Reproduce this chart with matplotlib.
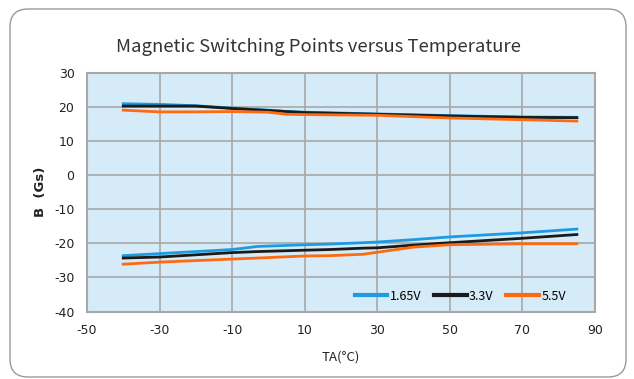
import matplotlib
matplotlib.use("Agg")
import matplotlib.pyplot as plt
from matplotlib.patches import FancyBboxPatch
from matplotlib.transforms import IdentityTransform

plt.rcParams["axes.unicode_minus"] = False

# ── Data ─────────────────────────────────────────────────────────────────────
temp_hi = [-40, -30, -20, -10, 0, 5, 10, 30, 50, 70, 85]
b165_hi = [21.0, 20.8, 20.4, 19.7, 19.1, 18.7, 18.5, 18.0, 17.5, 17.1, 17.0]
b33_hi  = [20.3, 20.3, 20.3, 19.6, 19.0, 18.7, 18.4, 17.9, 17.4, 17.0, 16.9]
b55_hi  = [19.1, 18.6, 18.6, 18.7, 18.5, 17.9, 17.8, 17.6, 16.8, 16.3, 15.9]

temp_lo = [-40, -30, -10, -3, 10, 17, 26, 30, 40, 50, 70, 85]
b165_lo = [-23.6, -23.0, -21.8, -20.9, -20.4, -20.2, -19.8, -19.6, -18.9, -18.1, -16.9, -15.8]
b33_lo  = [-24.3, -24.0, -22.7, -22.4, -22.0, -21.8, -21.4, -21.3, -20.5, -19.8, -18.5, -17.4]
b55_lo  = [-26.1, -25.5, -24.6, -24.3, -23.7, -23.6, -23.2, -22.6, -21.1, -20.4, -20.1, -20.1]

series_labels = ["1.65V", "3.3V", "5.5V"]
series_colors = ["#1E9BE0", "#1A1A1A", "#FF6A10"]

xticks = [-50, -30, -10, 10, 30, 50, 70, 90]
yticks = [-40, -30, -20, -10, 0, 10, 20, 30]

CJK = ["Noto Sans CJK SC", "DejaVu Sans"]

fig = plt.figure(figsize=(6.34, 3.79), dpi=100)

# rounded outer frame (pixel coords)
frame = FancyBboxPatch((10, 2), 616, 368,
                       boxstyle="round,pad=0,rounding_size=18",
                       transform=IdentityTransform(), zorder=-1,
                       facecolor="none", edgecolor="#9A9A9A", linewidth=1.0)
fig.patches.append(frame)

ax = fig.add_axes([0.1372, 0.178, 0.8013, 0.6293])
ax.set_facecolor("#D5EBF8")

his = [b165_hi, b33_hi, b55_hi]
los = [b165_lo, b33_lo, b55_lo]
for lab, col, yh, yl in zip(series_labels, series_colors, his, los):
    ax.plot(temp_hi, yh, color=col, linewidth=2.0, label=lab, zorder=3)
    ax.plot(temp_lo, yl, color=col, linewidth=2.0, zorder=3)

ax.set_xlim(-50, 90)
ax.set_ylim(-40, 30)
ax.set_xticks(xticks)
ax.set_yticks(yticks)
ax.tick_params(length=0, labelsize=9, pad=9, colors="#222222")
ax.grid(True, color="#A8A8A8", linewidth=1.2)
ax.set_axisbelow(True)
for sp in ax.spines.values():
    sp.set_color("#A8A8A8")
    sp.set_linewidth(1.5)

ax.set_xlabel("TA(°C)", fontsize=9.5, family=CJK, labelpad=10, color="#222222")
ax.set_ylabel("B  (Gs)", fontsize=9.5, fontweight="bold", labelpad=5, color="#222222")

fig.text(0.502, 0.875, "Magnetic Switching Points versus Temperature",
         ha="center", va="center", fontsize=13.3, family=CJK, color="#333333")

leg = ax.legend(loc="center", bbox_to_anchor=(0.735, 0.065), ncol=3,
                frameon=False, handlelength=2.6, handletextpad=0.2,
                columnspacing=1.0, prop={"family": CJK, "size": 9})
for h in leg.get_lines():
    h.set_linewidth(3.0)

plt.savefig("out.png", dpi=100)
plt.close()
